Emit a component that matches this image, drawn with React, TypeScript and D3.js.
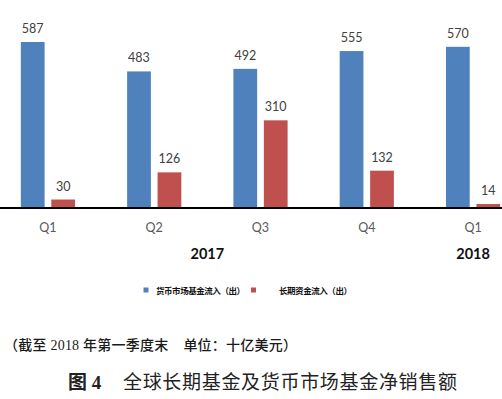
import React from "react";
import * as d3 from "d3";

const quarters = ["Q1", "Q2", "Q3", "Q4", "Q1 "];
const moneyMarket = [587, 483, 492, 555, 570];
const longTerm = [30, 126, 310, 132, 14];
const seriesNames = ["货币市场基金流入（出）", "长期资金流入（出）"];
const years = [
  { label: "2017", from: "Q1", to: "Q4" },
  { label: "2018", from: "Q1 ", to: "Q1 " },
];
const note = "（截至 2018 年第一季度末\u00a0\u00a0\u00a0\u00a0单位：十亿美元）";
const caption = "全球长期基金及货币市场基金净销售额";
const captionPrefix = "图 4";

const W = 502;
const H = 399;
const BLUE = "#4F81BD";
const RED = "#C0504D";
const SERIF = "'Liberation Serif', 'Noto Sans CJK SC', serif";

export default function App() {
  const baseY = 208;
  const x = d3
    .scaleBand<string>()
    .domain(quarters)
    .range([-5.2, 526.2])
    .paddingInner(0.49)
    .paddingOuter(0.245);
  const inner = d3
    .scaleBand<string>()
    .domain(["a", "b"])
    .range([0, x.bandwidth()])
    .paddingInner(0.22);
  const y = d3.scaleLinear().domain([0, 587]).range([baseY, 42]);

  const series = [
    { key: "a", values: moneyMarket, color: BLUE },
    { key: "b", values: longTerm, color: RED },
  ];

  const centerOf = (q: string) => (x(q) ?? 0) + x.bandwidth() / 2;

  return (
    <svg
      width={W}
      height={H}
      style={{ position: "absolute", left: 0, top: 0, background: "#fff" }}
    >
      <rect width={W} height={H} fill="#fff" />
      {series.map((s) =>
        quarters.map((q, i) => {
          const bx = (x(q) ?? 0) + (inner(s.key) ?? 0);
          const v = s.values[i];
          return (
            <g key={s.key + i}>
              <rect
                x={bx}
                y={y(v)}
                width={inner.bandwidth()}
                height={baseY - y(v)}
                fill={s.color}
              />
              <text
                x={bx + inner.bandwidth() / 2}
                y={y(v) - 9}
                textAnchor="middle"
                fontFamily="Lato, 'Open Sans', sans-serif"
                fontSize={12.5}
                fill="#404040"
              >
                {v}
              </text>
            </g>
          );
        })
      )}
      <line x1={0} x2={W} y1={baseY} y2={baseY} stroke="#000" strokeWidth={2} />
      {quarters.map((q) => (
        <text
          key={"q" + q}
          x={centerOf(q)}
          y={231.5}
          textAnchor="middle"
          fontFamily="Lato, 'Open Sans', sans-serif"
          fontSize={12.5}
          fill="#595959"
        >
          {q.trim()}
        </text>
      ))}
      {years.map((yr) => (
        <text
          key={yr.label}
          x={(centerOf(yr.from) + centerOf(yr.to)) / 2}
          y={259}
          textAnchor="middle"
          fontFamily="Lato, 'Open Sans', sans-serif"
          fontWeight="bold"
          fontSize={14.5}
          fill="#111"
        >
          {yr.label}
        </text>
      ))}
      {/* legend */}
      <rect x={143.5} y={287.5} width={5} height={5} fill={BLUE} />
      <text
        x={156}
        y={293.5}
        fontFamily="'Noto Sans CJK SC', sans-serif"
        fontSize={8.5}
        fontWeight="bold"
        fill="#111"
        textLength={89}
      >
        {seriesNames[0]}
      </text>
      <rect x={251} y={287.5} width={5} height={5} fill={RED} />
      <text
        x={279}
        y={293.5}
        fontFamily="'Noto Sans CJK SC', sans-serif"
        fontSize={8.5}
        fontWeight="bold"
        fill="#111"
        textLength={73}
      >
        {seriesNames[1]}
      </text>
      {/* note */}
      <text
        x={4}
        y={350}
        fontFamily={SERIF}
        fontSize={14}
        fontWeight={500}
        fill="#1a1a1a"
        textLength={293}
      >
        {note}
      </text>
      {/* caption */}
      <text
        x={68}
        y={389}
        fontFamily={SERIF}
        fontSize={19}
        fontWeight="bold"
        fill="#222"
      >
        {captionPrefix}
      </text>
      <text
        x={123}
        y={389}
        fontFamily="'Noto Sans CJK SC', sans-serif"
        fontSize={19}
        fill="#222"
        textLength={334}
      >
        {caption}
      </text>
    </svg>
  );
}
